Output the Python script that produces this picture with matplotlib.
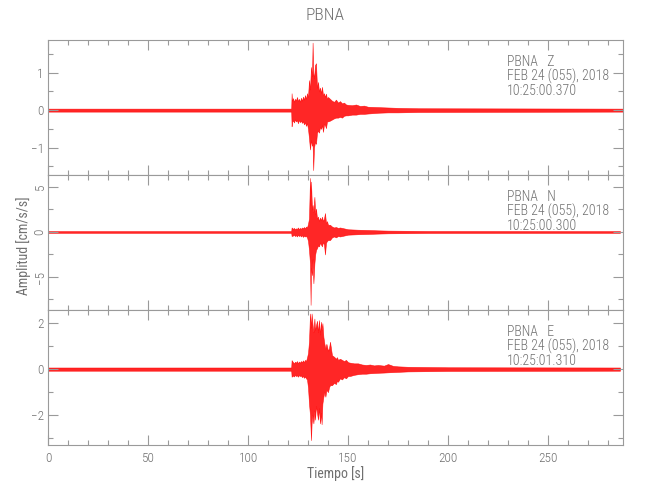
import matplotlib
matplotlib.use("Agg")
import matplotlib.pyplot as plt
from matplotlib import font_manager
from matplotlib.ticker import MultipleLocator

names = {f.name for f in font_manager.fontManager.ttflist}
pref = ['Liberation Sans Narrow', 'Roboto Condensed', 'Open Sans Condensed', 'Roboto', 'DejaVu Sans']
fam = [n for n in pref if n in names] or ['DejaVu Sans']
plt.rcParams['font.family'] = fam
plt.rcParams['font.weight'] = 'light'

station = "PBNA"
components = ["Z", "N", "E"]
date_label = "FEB 24 (055), 2018"
start_times = ["10:25:00.370", "10:25:00.300", "10:25:01.310"]
x_label = "Tiempo [s]"
y_label = "Amplitud [cm/s/s]"

# Digitized envelope of each trace (seconds, upper, lower amplitude)
t_z = [0, 121.6, 121.8, 122.0, 122.5, 123, 123.5, 124, 124.5, 125, 125.5, 126, 126.5, 127, 127.5, 128, 128.5,
       129, 129.5, 130, 130.5, 131, 131.5, 132, 132.3, 132.6, 133, 133.5, 134, 134.5, 135, 135.5, 136, 136.5,
       137, 137.5, 138, 138.5, 139, 139.5, 140, 141, 142, 143, 144, 145, 146, 147, 148, 149, 150, 152, 154,
       156, 158, 160, 165, 170, 175, 180, 185, 287.5]
up_z = [0.04, 0.04, 0.45, 0.25, 0.32, 0.22, 0.3, 0.26, 0.35, 0.24, 0.3, 0.22, 0.33, 0.25, 0.36, 0.28, 0.4,
        0.3, 0.45, 0.35, 0.8, 0.55, 1.15, 0.9, 1.8, 1.0, 0.85, 1.2, 1.25, 0.6, 0.75, 0.5, 0.6, 0.45,
        0.62, 0.4, 0.45, 0.35, 0.44, 0.3, 0.35, 0.3, 0.25, 0.22, 0.28, 0.2, 0.24, 0.18, 0.2, 0.15, 0.14, 0.13, 0.15,
        0.11, 0.12, 0.09, 0.08, 0.07, 0.06, 0.055, 0.05, 0.04]
lo_z = [-0.04, -0.04, -0.43, -0.3, -0.28, -0.33, -0.25, -0.3, -0.27, -0.35, -0.26, -0.32, -0.28, -0.34, -0.3, -0.38, -0.32,
        -0.42, -0.35, -0.5, -0.75, -1.05, -0.8, -0.95, -0.9, -1.6, -1.0, -0.85, -0.9, -0.6, -0.55, -0.6, -0.45, -0.5,
        -0.4, -0.58, -0.38, -0.4, -0.48, -0.3, -0.3, -0.28, -0.25, -0.22, -0.2, -0.2, -0.18, -0.2, -0.15, -0.14, -0.14, -0.12, -0.12,
        -0.1, -0.1, -0.09, -0.07, -0.06, -0.06, -0.055, -0.05, -0.04]

t_n = [0, 121.6, 121.8, 122.5, 123, 123.5, 124, 124.5, 125, 125.5, 126, 126.5, 127, 127.5, 128, 128.5, 129, 129.5,
       130, 130.5, 131, 131.3, 131.5, 132, 132.3, 132.7, 133.2, 133.6, 134, 134.5, 135, 135.5, 136, 136.5, 137,
       137.5, 138, 138.5, 139, 139.5, 140, 141, 142, 143, 144, 145, 146, 148, 150, 155, 160, 165, 170, 180, 190, 286]
up_n = [0.1, 0.1, 0.5, 0.35, 0.45, 0.3, 0.4, 0.35, 0.5, 0.3, 0.45, 0.35, 0.5, 0.4, 0.55, 0.4, 0.6, 0.5,
        0.9, 1.5, 6.0, 3.0, 5.6, 2.5, 3.0, 2.2, 3.9, 2.0, 2.6, 1.5, 1.7, 1.2, 1.6, 1.3, 1.7,
        1.2, 1.5, 2.1, 1.0, 1.2, 0.8, 0.8, 0.6, 0.5, 0.55, 0.45, 0.5, 0.4, 0.3, 0.25, 0.22, 0.18, 0.15, 0.13, 0.11, 0.1]
lo_n = [-0.1, -0.1, -0.45, -0.4, -0.3, -0.45, -0.35, -0.5, -0.3, -0.45, -0.35, -0.5, -0.35, -0.55, -0.4, -0.5, -0.45, -0.6,
        -1.0, -2.0, -3.5, -8.1, -4.0, -4.8, -3.0, -5.7, -3.5, -2.5, -2.0, -1.8, -1.5, -1.6, -1.2, -1.4, -1.6,
        -1.1, -1.4, -2.5, -1.2, -1.0, -0.9, -0.9, -0.6, -0.5, -0.6, -0.45, -0.5, -0.4, -0.3, -0.25, -0.22, -0.18, -0.15, -0.13, -0.11, -0.1]

t_e = [0, 121.6, 121.8, 122.5, 123, 123.5, 124, 124.5, 125, 125.5, 126, 126.5, 127, 127.5, 128, 128.5, 129, 129.5,
       130, 130.5, 131, 131.5, 131.8, 132.2, 132.7, 133.2, 133.5, 134, 134.5, 135, 135.5, 136, 136.5, 136.8, 137.2,
       137.7, 138.2, 138.7, 139.2, 140, 140.5, 141, 142, 143, 144, 144.5, 145, 146, 147, 148, 149, 150, 151, 153,
       155, 157, 159, 161, 163, 165, 168, 170, 172.5, 175, 180, 190, 200, 286]
up_e = [0.07, 0.07, 0.39, 0.3, 0.25, 0.32, 0.28, 0.35, 0.25, 0.33, 0.28, 0.35, 0.3, 0.38, 0.3, 0.4, 0.35, 0.5,
        0.7, 1.2, 2.42, 1.8, 2.42, 2.0, 1.6, 2.2, 1.7, 1.9, 2.1, 1.6, 2.13, 1.5, 2.06, 1.7, 2.0,
        1.4, 1.1, 0.9, 1.1, 0.8, 0.9, 1.19, 0.6, 0.54, 0.45, 0.52, 0.4, 0.45, 0.4, 0.35, 0.4, 0.3, 0.28, 0.25,
        0.25, 0.2, 0.18, 0.2, 0.16, 0.18, 0.15, 0.22, 0.14, 0.12, 0.1, 0.09, 0.08, 0.07]
lo_e = [-0.07, -0.07, -0.33, -0.28, -0.32, -0.25, -0.3, -0.27, -0.33, -0.26, -0.3, -0.28, -0.35, -0.3, -0.38, -0.32, -0.4, -0.45,
        -0.8, -1.5, -2.0, -3.09, -2.36, -2.0, -2.36, -1.8, -2.2, -1.6, -1.9, -2.2, -1.7, -2.36, -1.9, -2.4, -1.5,
        -1.2, -1.0, -1.2, -0.9, -1.0, -0.8, -0.7, -0.7, -0.6, -0.65, -0.5, -0.55, -0.4, -0.45, -0.35, -0.4, -0.3, -0.3, -0.25,
        -0.22, -0.2, -0.2, -0.18, -0.17, -0.16, -0.15, -0.14, -0.13, -0.12, -0.1, -0.09, -0.08, -0.07]

traces = [(t_z, up_z, lo_z), (t_n, up_n, lo_n), (t_e, up_e, lo_e)]
ylims = [(-1.73, 1.87), (-8.67, 6.33), (-3.3, 2.57)]
y_major = [1, 5, 2]
y_minor = [0.5, 2.5, 1]
x_lim = (0, 287.5)

grey = '#9a9a9a'
txt = '#707070'
red = '#ff0000'

fig = plt.figure(figsize=(6.5, 5), dpi=100)
left, width, h = 48 / 650, 575 / 650, 135 / 500
bottoms = [1 - 175 / 500, 1 - 310 / 500, 1 - 445 / 500]

for i, (t, up, lo) in enumerate(traces):
    ax = fig.add_axes([left, bottoms[i], width, h])
    ax.fill_between(t, lo, up, facecolor=red, edgecolor=red, linewidth=0.4, alpha=0.85)
    ax.set_xlim(*x_lim)
    ax.set_ylim(*ylims[i])
    ax.xaxis.set_major_locator(MultipleLocator(50))
    ax.xaxis.set_minor_locator(MultipleLocator(10))
    ax.yaxis.set_major_locator(MultipleLocator(y_major[i]))
    ax.yaxis.set_minor_locator(MultipleLocator(y_minor[i]))
    for s in ax.spines.values():
        s.set_color(grey)
        s.set_linewidth(0.8)
    ax.tick_params(which='both', direction='in', top=True, right=True, color=grey,
                   labelcolor=txt, labelsize=9.5, width=0.8)
    ax.tick_params(which='major', length=7)
    ax.tick_params(which='minor', length=3.5)
    ax.tick_params(axis='y', pad=3)
    if i < 2:
        ax.tick_params(labelbottom=False)
    else:
        ax.tick_params(axis='x', pad=5)
        ax.set_xlabel(x_label, color=txt, fontsize=10, labelpad=1)
    if i == 1:
        ax.tick_params(axis='y', labelrotation=90, pad=1)
        for lab in ax.get_yticklabels():
            lab.set_va('center')
        ax.set_ylabel(y_label, color=txt, fontsize=10)
        ax.yaxis.set_label_coords(-0.029, 0.48)
    ax.text(0.798, 0.89, f"{station}   {components[i]}\n{date_label}\n{start_times[i]}",
            transform=ax.transAxes, ha='left', va='top', color=txt, fontsize=10, linespacing=1.0)

fig.text(0.5, 0.968, station, ha='center', va='center', color=txt, fontsize=12.5)
fig.savefig('out.png', dpi=100)
